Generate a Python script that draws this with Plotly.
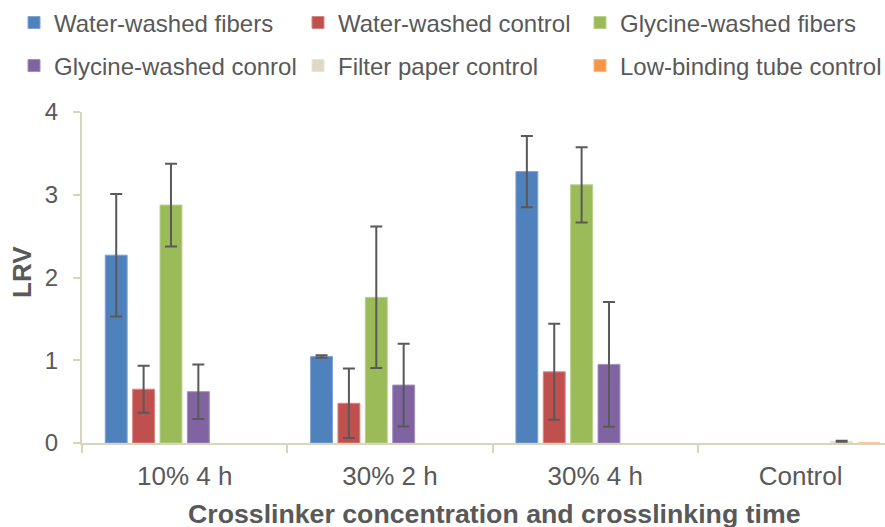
import plotly.graph_objects as go

categories = ["10% 4 h", "30% 2 h", "30% 4 h", "Control"]

series_names = [
    "Water-washed fibers",
    "Water-washed control",
    "Glycine-washed fibers",
    "Glycine-washed conrol",
    "Filter paper control",
    "Low-binding tube control",
]

water_fibers = [2.27, 1.045, 3.28, None]
water_fibers_err = [0.74, 0.015, 0.43, None]
water_control = [0.65, 0.48, 0.86, None]
water_control_err = [0.285, 0.42, 0.58, None]
glycine_fibers = [2.875, 1.76, 3.12, None]
glycine_fibers_err = [0.50, 0.855, 0.455, None]
glycine_control = [0.62, 0.70, 0.95, None]
glycine_control_err = [0.33, 0.50, 0.755, None]
filter_paper = [None, None, None, 0.02]
filter_paper_err = [None, None, None, 0.006]
low_binding = [None, None, None, 0.0]
low_binding_err = [None, None, None, None]

values = [water_fibers, water_control, glycine_fibers, glycine_control, filter_paper, low_binding]
errors = [water_fibers_err, water_control_err, glycine_fibers_err, glycine_control_err,
          filter_paper_err, low_binding_err]
colors = ["#4F81BD", "#C0504D", "#9BBB59", "#8064A2", "#DDD9C3", "#F79646"]
edge_colors = ["#7FA3D1", "#D88583", "#B8D18A", "#A38DBE", "#E8E5D6", "#F9B47A"]

FONT = "Liberation Sans, Arial, sans-serif"
TXT = "#595959"
AXIS = "#D9D4BC"

W, H = 885, 527

legend_ids = ["legend", "legend2", "legend3", "legend4", "legend5", "legend6"]

fig = go.Figure()
for i, (name, vals, errs) in enumerate(zip(series_names, values, errors)):
    fig.add_trace(go.Bar(
        name=name,
        x=categories,
        y=vals,
        marker=dict(color=colors[i], line=dict(color=edge_colors[i], width=1)),
        error_y=dict(type="data", array=[e if e is not None else 0 for e in errs],
                     visible=any(e is not None for e in errs),
                     color="#595959", thickness=2, width=6),
        legend=legend_ids[i],
    ))

col_x = [14, 298, 580]         # legend left edges (px, container)
row_y = [1.337, 1.207]          # legend tops (paper)
legend_layout = {}
for i, lid in enumerate(legend_ids):
    legend_layout[lid] = dict(
        orientation="v", xref="container", x=col_x[i % 3] / W,
        yref="paper", y=row_y[i // 3], xanchor="left", yanchor="top",
        itemwidth=30, font=dict(size=24, color=TXT, family=FONT),
        bgcolor="rgba(0,0,0,0)",
    )

fig.update_layout(
    width=W, height=H,
    margin=dict(l=82, r=0, t=112, b=84, autoexpand=False),
    paper_bgcolor="white", plot_bgcolor="white",
    barmode="group", bargap=0.2, bargroupgap=0.2,
    font=dict(family=FONT, color=TXT),
    showlegend=True,
    **legend_layout,
    annotations=[
        dict(text="<b>LRV</b>", xref="paper", yref="paper", x=0, y=0.5166,
             xshift=-60, xanchor="center", yanchor="middle", textangle=-90,
             showarrow=False, font=dict(size=26, color=TXT, family=FONT)),
        dict(text="<b>Crosslinker concentration and crosslinking time</b>",
             xref="paper", yref="paper", x=0.513, y=-0.2145,
             xanchor="center", yanchor="middle", showarrow=False,
             font=dict(size=26.7, color=TXT, family=FONT)),
    ],
)

fig.update_xaxes(
    type="category", range=[-0.5, 3.411],
    showline=True, linecolor=AXIS, linewidth=2,
    ticks="outside", tickson="boundaries", ticklen=8, tickcolor=AXIS, tickwidth=2,
    tickfont=dict(size=26, color=TXT, family=FONT), ticklabelstandoff=9,
    showgrid=False, zeroline=False,
)
fig.update_yaxes(
    range=[0, 4], dtick=1,
    showline=True, linecolor=AXIS, linewidth=2,
    ticks="outside", ticklen=7, tickcolor=AXIS, tickwidth=2,
    tickfont=dict(size=24, color=TXT, family=FONT), ticklabelstandoff=10,
    showgrid=False, zeroline=False,
)

fig.write_html(
    "out.html",
    config={"displayModeBar": False},
    post_script="document.body.style.margin='0';document.body.style.overflow='hidden';",
)
